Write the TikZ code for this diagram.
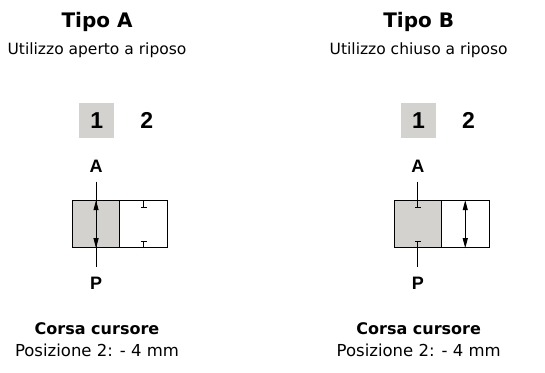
\documentclass[tikz,border=0pt]{standalone}
\usepackage{fontspec}
\setmainfont{DejaVu Sans}
\newfontfamily\labfont{Liberation Sans}
\usepackage{tikz}
\usetikzlibrary{arrows.meta}

\definecolor{valvegray}{RGB}{211,210,207}

\tikzset{
  title/.style={font=\fontsize{20}{24}\selectfont\bfseries,anchor=base,inner sep=0pt},
  subtitle/.style={font=\fontsize{15.5}{19}\selectfont,anchor=base,inner sep=0pt},
  caption/.style={font=\fontsize{16}{19}\selectfont\bfseries,anchor=base,inner sep=0pt},
  stroke/.style={font=\fontsize{16.5}{19}\selectfont,anchor=base,inner sep=0pt},
  posnum/.style={font=\labfont\bfseries\fontsize{23}{26}\selectfont,inner sep=0pt},
  port/.style={font=\labfont\bfseries\fontsize{18}{20}\selectfont,inner sep=0pt},
  cell/.style={draw,line width=1pt,minimum width=47.5pt,minimum height=47pt,inner sep=0pt},
  flow/.style={line width=1pt,{Triangle[length=10pt,width=5pt]}-{Triangle[length=10pt,width=5pt]}},
  shut/.style={line width=1pt,-{Bar[width=6pt,line width=1pt]}}
}

\begin{document}
\begin{tikzpicture}[x=1pt,y=-1pt]
\useasboundingbox (0,0) rectangle (545,372);

%Tipo A: open at rest
\node[title] (tipoA) at (97,27.5) {Tipo A};
\node[subtitle] (subA) at (97,54) {Utilizzo aperto a riposo};
\node[posnum,fill=valvegray,minimum width=34.7pt,minimum height=34.4pt] (oneA) at (96.7,120.5) {1};
\node[posnum] (twoA) at (146.7,120.5) {2};
\node[port] (portAA) at (96.05,166) {A};
\node[port] (portPA) at (96.05,283) {P};
\node[cell,fill=valvegray] (leftA) at (96.05,224.2) {};
\node[cell] (rightA) at (143.55,224.2) {};
\coordinate (topA) at (96.05,181.7);
\coordinate (botA) at (96.05,266.7);
  \draw[line width=1pt] (topA) -- (botA);
  \draw[flow] (leftA.north) -- (leftA.south);
  \draw[shut] (rightA.north) -- ([yshift=-8pt]rightA.north);
  \draw[shut] (rightA.south) -- ([yshift=7pt]rightA.south);
\node[caption] (corsaA) at (97,334.5) {Corsa cursore};
\node[stroke] (posA) at (97,356) {Posizione 2: - 4 mm};

%Tipo B: closed at rest
\begin{scope}[xshift=321.7pt]
\node[title] (tipoB) at (97,27.5) {Tipo B};
\node[subtitle] (subB) at (97,54) {Utilizzo chiuso a riposo};
\node[posnum,fill=valvegray,minimum width=34.7pt,minimum height=34.4pt] (oneB) at (96.7,120.5) {1};
\node[posnum] (twoB) at (146.7,120.5) {2};
\node[port] (portAB) at (96.05,166) {A};
\node[port] (portPB) at (96.05,283) {P};
\node[cell,fill=valvegray] (leftB) at (96.05,224.2) {};
\node[cell] (rightB) at (143.55,224.2) {};
\coordinate (topB) at (96.05,181.7);
\coordinate (botB) at (96.05,266.7);
  \draw[shut] (topB) -- ([yshift=-8pt]leftB.north);
  \draw[shut] (botB) -- ([yshift=7pt]leftB.south);
  \draw[flow] (rightB.north) -- (rightB.south);
\node[caption] (corsaB) at (97,334.5) {Corsa cursore};
\node[stroke] (posB) at (97,356) {Posizione 2: - 4 mm};
\end{scope}

\end{tikzpicture}
\end{document}
